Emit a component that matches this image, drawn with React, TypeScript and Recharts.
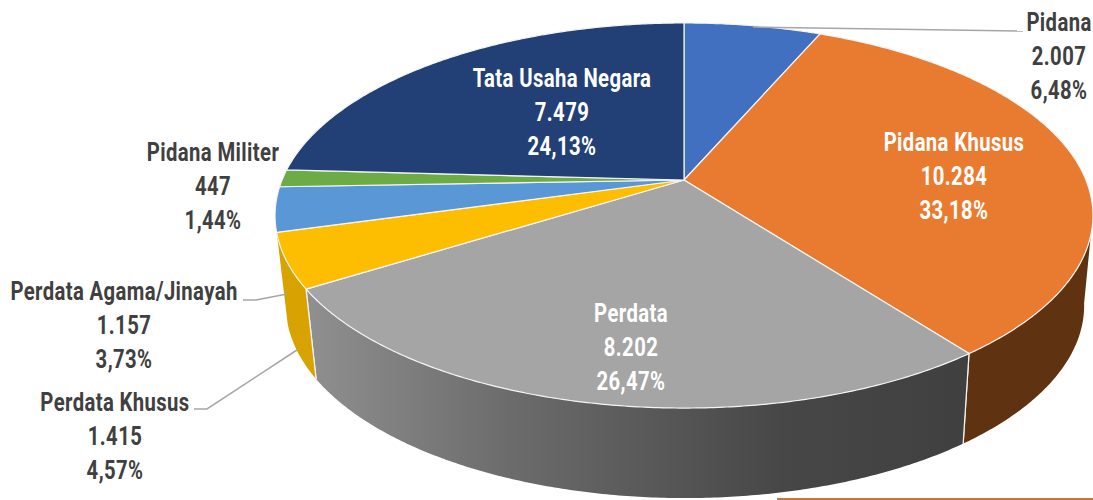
import { Pie, PieChart } from "recharts";

const categories = [
  "Pidana",
  "Pidana Khusus",
  "Perdata",
  "Perdata Khusus",
  "Perdata Agama/Jinayah",
  "Pidana Militer",
  "Tata Usaha Negara",
];
const caseCounts = [2007, 10284, 8202, 1415, 1157, 447, 7479];
const percentLabels = ["6,48%", "33,18%", "26,47%", "4,57%", "3,73%", "1,44%", "24,13%"];

const topColors = ["#4170c0", "#e97b30", "#a5a5a5", "#fdbd00", "#5997d6", "#6cab45", "#223f76"];
const wallColors = ["#2f5290", "#5f3211", "url(#greyWall)", "#d8a200", "#3f74a8", "#4f8030", "#182d55"];
const labelColors = ["#404040", "#ffffff", "#ffffff", "#404040", "#404040", "#404040", "#ffffff"];

// label centre x, first baseline y
const labelSpots = [
  [1059, 31],
  [954, 151],
  [631, 322],
  [115, 411],
  [124, 300],
  [213, 161],
  [562, 87],
];

const leaderLines = [
  "M753,27 L1023,31",
  "",
  "",
  "M194,409 L207,409 L297,350",
  "M243,300 L256,300 L287,294",
  "",
  "",
];

const chartData = categories.map((name, i) => ({
  name,
  value: caseCounts[i],
  fill: topColors[i],
}));
const wallData = categories.map((name, i) => ({
  name,
  value: caseCounts[i],
  fill: wallColors[i],
}));

// the pie is tilted in perspective, so angles go through a projective map
const WIDEN = 2.161;
const PERSPECTIVE = -0.1844;
const DEPTH = 90;
const WALL_SHRINK = 0.976;
const FRONT_FROM = 100;
const FRONT_TO = 254;
const TEXT_SQUEEZE = 0.78;

const project = (cx: number, cy: number, r: number, clockDeg: number) => {
  const t = (clockDeg * Math.PI) / 180;
  const u = Math.sin(t);
  const v = -Math.cos(t);
  const d = 1 + PERSPECTIVE * v;
  return [cx + (r * WIDEN * u) / d, cy + (r * v) / d];
};

const lower = (cx: number, p: number[]) => [
  cx + 1 + (p[0] - cx) * WALL_SHRINK,
  p[1] + DEPTH,
];

const rim = (cx: number, cy: number, r: number, from: number, to: number) => {
  const pts: number[][] = [];
  const steps = Math.max(2, Math.ceil(to - from) * 2);
  for (let i = 0; i <= steps; i++) {
    pts.push(project(cx, cy, r, from + ((to - from) * i) / steps));
  }
  return pts;
};

const toPath = (pts: number[][]) =>
  pts.map((p, i) => `${i ? "L" : "M"}${p[0].toFixed(2)},${p[1].toFixed(2)}`).join(" ");

const TopFace = (props: any) => {
  const { cx, cy, outerRadius, startAngle, endAngle, fill } = props;
  const pts = rim(cx, cy, outerRadius, 90 - startAngle, 90 - endAngle);
  return (
    <path
      d={`M${cx},${cy} ${toPath(pts).replace("M", "L")} Z`}
      fill={fill}
      stroke="#f4f4f4"
      strokeWidth={1.2}
      strokeLinejoin="round"
    />
  );
};

const WallFace = (props: any) => {
  const { cx, cy, outerRadius, startAngle, endAngle, fill } = props;
  const a = 90 - startAngle;
  const b = 90 - endAngle;
  const from = Math.max(a, FRONT_FROM);
  const to = Math.min(b, FRONT_TO);
  if (to <= from) return <g />;
  const top = rim(cx, cy, outerRadius, from, to);
  const bottom = top.map((p) => lower(cx, p)).reverse();
  const seams = [a, b]
    .filter((t) => t > FRONT_FROM && t < FRONT_TO)
    .map((t) => {
      const p = project(cx, cy, outerRadius, t);
      return toPath([p, lower(cx, p)]);
    });
  return (
    <g>
      <path d={`${toPath(top)} ${toPath(bottom).replace("M", "L")} Z`} fill={fill} />
      {seams.map((d) => (
        <path key={d} d={d} stroke="#f4f4f4" strokeWidth={1.2} fill="none" />
      ))}
    </g>
  );
};

const SliceLabel = ({ index }: any) => {
  const [x, y] = labelSpots[index];
  return (
    <g>
      {leaderLines[index] && (
        <path d={leaderLines[index]} fill="none" stroke="#a6a6a6" strokeWidth={1.5} />
      )}
      <text
        transform={`translate(${x} ${y}) scale(${TEXT_SQUEEZE} 1)`}
        textAnchor="middle"
        fill={labelColors[index]}
        fontFamily="Roboto, sans-serif"
        fontWeight={700}
        fontSize={26}
        letterSpacing={0.5}
      >
        <tspan x={0}>{categories[index]}</tspan>
        <tspan x={0} dy={34}>
          {String(caseCounts[index]).replace(/\B(?=(\d{3})+$)/g, ".")}
        </tspan>
        <tspan x={0} dy={34}>
          {percentLabels[index]}
        </tspan>
      </text>
    </g>
  );
};

export default function App() {
  return (
    <div style={{ position: "fixed", left: 0, top: 0, width: 1093, height: 500, background: "#fff" }}>
      <PieChart width={1093} height={500} margin={{ top: 0, right: 0, bottom: 0, left: 0 }}>
        <defs>
          <linearGradient id="greyWall" gradientUnits="userSpaceOnUse" x1={310} y1={0} x2={965} y2={0}>
            <stop offset="0" stopColor="#8f8f8f" />
            <stop offset="0.3" stopColor="#6c6c6c" />
            <stop offset="0.72" stopColor="#474747" />
            <stop offset="1" stopColor="#404040" />
          </linearGradient>
        </defs>
        <Pie
          data={wallData}
          dataKey="value"
          nameKey="name"
          cx={684}
          cy={180}
          outerRadius={186}
          startAngle={90}
          endAngle={-270}
          stroke="none"
          shape={WallFace}
          isAnimationActive={false}
        />
        <Pie
          data={chartData}
          dataKey="value"
          nameKey="name"
          cx={684}
          cy={180}
          outerRadius={186}
          startAngle={90}
          endAngle={-270}
          shape={TopFace}
          label={SliceLabel}
          labelLine={false}
          isAnimationActive={false}
        />
      </PieChart>
      <div style={{ position: "absolute", left: 777, top: 498, width: 316, height: 2, background: "#c9763a" }} />
    </div>
  );
}
